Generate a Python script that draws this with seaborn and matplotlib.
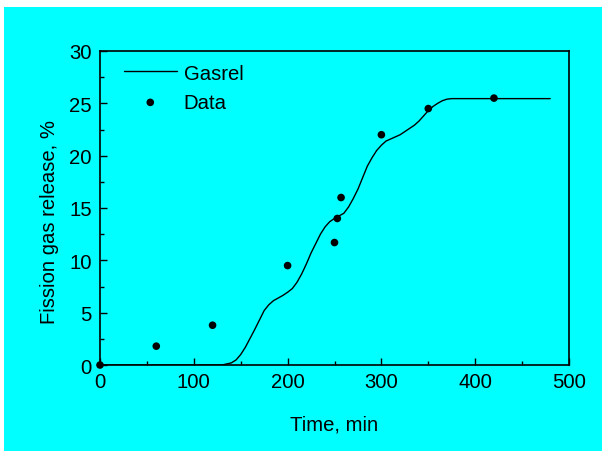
import matplotlib
matplotlib.use("Agg")
import matplotlib.pyplot as plt
import seaborn as sns
import pandas as pd
from matplotlib.patches import Rectangle
from matplotlib.ticker import MultipleLocator

# Model curve (Gasrel), every 5 min
model_time = [0, 125, 130, 135, 140, 145, 150, 155, 160, 165, 170, 175, 180,
              185, 190, 195, 200, 205, 210, 215, 220, 225, 230, 235, 240, 245,
              250, 255, 260, 265, 270, 275, 280, 285, 290, 295, 300, 305, 310,
              315, 320, 325, 330, 335, 340, 345, 350, 355, 360, 365, 370, 375,
              380, 480]
model_release = [0, 0, 0, 0.1, 0.2, 0.48, 1.0, 1.7, 2.55, 3.4, 4.3, 5.2, 5.76,
                 6.15, 6.4, 6.65, 6.95, 7.3, 7.9, 8.7, 9.65, 10.7, 11.6, 12.5,
                 13.2, 13.7, 14.0, 14.25, 14.5, 15.1, 15.9, 16.8, 17.9, 19.0,
                 19.8, 20.5, 21.0, 21.4, 21.6, 21.8, 22.0, 22.3, 22.6, 22.9,
                 23.3, 23.8, 24.3, 24.7, 25.0, 25.25, 25.4, 25.45, 25.45, 25.45]

# Measured data
data_time = [0, 60, 120, 200, 250, 253, 257, 300, 350, 420]
data_release = [0, 1.8, 3.8, 9.5, 11.7, 14.0, 16.0, 22.0, 24.5, 25.5]

sns.set_theme(style="ticks")
plt.rcParams['font.family'] = ['Liberation Sans', 'DejaVu Sans']

fig = plt.figure(figsize=(6.02, 4.52), dpi=100)
fig.patch.set_facecolor('white')
fig.patches.append(Rectangle((4 / 602, 0), 1 - 4 / 602, 1 - 8 / 452,
                             transform=fig.transFigure, facecolor='#00FFFF',
                             edgecolor='none', zorder=-10))

ax = fig.add_axes([100 / 602, 1 - 366 / 452, 469 / 602, 314 / 452])
ax.set_facecolor('#00FFFF')

model_df = pd.DataFrame({'t': model_time, 'r': model_release})
data_df = pd.DataFrame({'t': data_time, 'r': data_release})

sns.lineplot(data=model_df, x='t', y='r', ax=ax, color='black', lw=1.0,
             label='Gasrel', zorder=3)
sns.scatterplot(data=data_df, x='t', y='r', ax=ax, color='black', s=30,
                edgecolor='none', label='Data', clip_on=False, zorder=4)

ax.set_xlim(0, 500)
ax.set_ylim(0, 30)
ax.xaxis.set_major_locator(MultipleLocator(100))
ax.xaxis.set_minor_locator(MultipleLocator(50))
ax.yaxis.set_major_locator(MultipleLocator(5))
ax.yaxis.set_minor_locator(MultipleLocator(2.5))

fs = 14.6
ax.tick_params(which='both', direction='in', top=False, right=False,
               colors='black', labelsize=fs, width=1.0)
ax.tick_params(which='major', length=5)
ax.tick_params(which='minor', length=3)
ax.tick_params(axis='x', pad=5)
ax.tick_params(axis='y', pad=6)

for sp in ax.spines.values():
    sp.set_visible(True)
    sp.set_color('black')
    sp.set_linewidth(1.2)

ax.set_xlabel('Time, min', fontsize=fs, labelpad=17, color='black')
ax.set_ylabel('Fission gas release, %', fontsize=fs, labelpad=7,
              color='black', y=0.459)

leg = ax.legend(loc='upper left', bbox_to_anchor=(0.051, 0.96), frameon=False,
                fontsize=fs, handlelength=2.6, handletextpad=0.35,
                labelspacing=0.5, borderaxespad=0, borderpad=0)
for t in leg.get_texts():
    t.set_color('black')

fig.savefig('out.png', dpi=100, facecolor=fig.get_facecolor())
